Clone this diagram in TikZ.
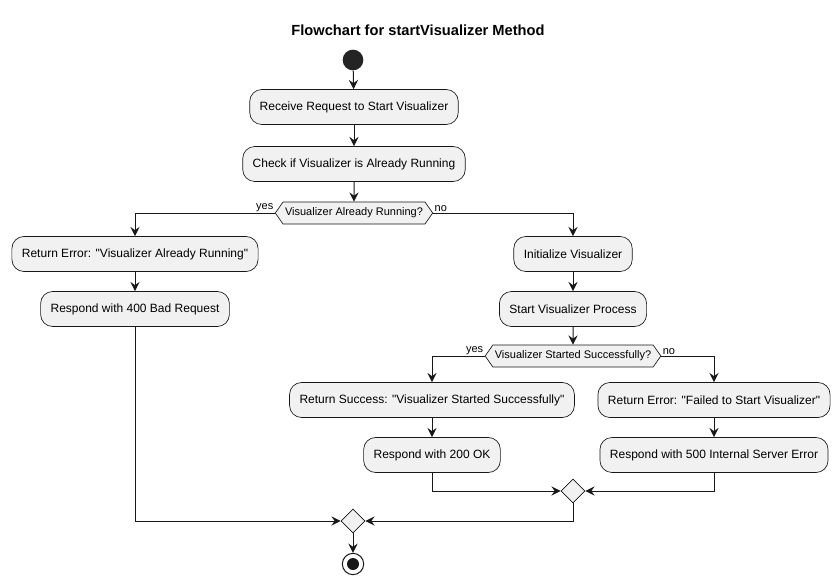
\documentclass[tikz,border=0pt]{standalone}
\usepackage{fontspec}
\setmainfont{Liberation Sans}
\usetikzlibrary{arrows.meta,positioning,shapes.geometric,shapes.symbols}
\definecolor{actfill}{HTML}{F1F1F1}
\definecolor{lineblk}{HTML}{181818}

\begin{document}
\begin{tikzpicture}[
    x=0.75pt, y=-0.75pt,
    act/.style={draw=lineblk, line width=0.5pt, fill=actfill, rounded corners=9pt, minimum height=26.25pt, inner xsep=7.5pt, font=\fontsize{9}{11}\selectfont},
    ask/.style={draw=lineblk, line width=0.5pt, fill=actfill, signal, signal to=east and west, signal pointer angle=110, minimum height=16.5pt, inner xsep=1.5pt, inner ysep=0pt, font=\fontsize{8.25}{10}\selectfont},
    merge/.style={draw=lineblk, line width=0.5pt, fill=actfill, diamond, minimum size=18pt, inner sep=0pt},
    startc/.style={circle, fill=lineblk!95, minimum size=15.5pt, inner sep=0pt},
    stopc/.style={circle, draw=lineblk, line width=0.75pt, fill=white, minimum size=16pt, inner sep=0pt,
        path picture={\fill[lineblk] (path picture bounding box.center) circle (4.5pt);}},
    tag/.style={font=\fontsize{8.25}{10}\selectfont, inner sep=1pt},
    conn/.style={-{Stealth[length=7pt, width=7pt, inset=2.5pt]}, line width=0.75pt, draw=lineblk},
]
\useasboundingbox (0,0) rectangle (839,585);

% Title
\node[font=\bfseries\fontsize{11}{13}\selectfont] (title) at (418,30) {Flowchart for startVisualizer Method};

% Main column
\node[startc] (start) at (353,60) {};
\node[act] (recv)  at (354,107) {Receive Request to Start Visualizer};
\node[act] (check) at (354,164) {Check if Visualizer is Already Running};
\node[ask] (q1)    at (354,213) {Visualizer Already Running?};

% Already running branch
\node[act] (errrun)  at (135,254) {Return Error: \textquotedbl Visualizer Already Running\textquotedbl};
\node[act] (resp400) at (135,309) {Respond with 400 Bad Request};

% Not running branch
\node[act] (init) at (573,254) {Initialize Visualizer};
\node[act] (proc) at (573,309) {Start Visualizer Process};
\node[ask] (q2)   at (573,356) {Visualizer Started Successfully?};

\node[act] (okmsg)   at (432,400) {Return Success: \textquotedbl Visualizer Started Successfully\textquotedbl};
\node[act] (resp200) at (432,455) {Respond with 200 OK};
\node[act] (failmsg) at (714,400) {Return Error: \textquotedbl Failed to Start Visualizer\textquotedbl};
\node[act] (resp500) at (714,455) {Respond with 500 Internal Server Error};

% Merges and end
\node[merge] (merge2) at (573,491) {};
\node[merge] (merge1) at (353,521) {};
\node[stopc] (stop)   at (353,564) {};

% Branch labels
\node[tag, anchor=south east] (yes1) at (q1.west) {yes};
\node[tag, anchor=south west] (no1)  at (q1.east) {no};
\node[tag, anchor=south east] (yes2) at (q2.west) {yes};
\node[tag, anchor=south west] (no2)  at (q2.east) {no};

% Connections
\draw[conn] (start) -- (recv);
\draw[conn] (recv) -- (check);
\draw[conn] (check) -- (q1);
\draw[conn] (q1.west) -| (errrun);
\draw[conn] (errrun) -- (resp400);
\draw[conn] (q1.east) -| (init);
\draw[conn] (init) -- (proc);
\draw[conn] (proc) -- (q2);
\draw[conn] (q2.west) -| (okmsg);
\draw[conn] (okmsg) -- (resp200);
\draw[conn] (q2.east) -| (failmsg);
\draw[conn] (failmsg) -- (resp500);
\draw[conn] (resp200) |- (merge2);
\draw[conn] (resp500) |- (merge2);
\draw[conn] (merge2) |- (merge1);
\draw[conn] (resp400) |- (merge1);
\draw[conn] (merge1) -- (stop);
\end{tikzpicture}
\end{document}
